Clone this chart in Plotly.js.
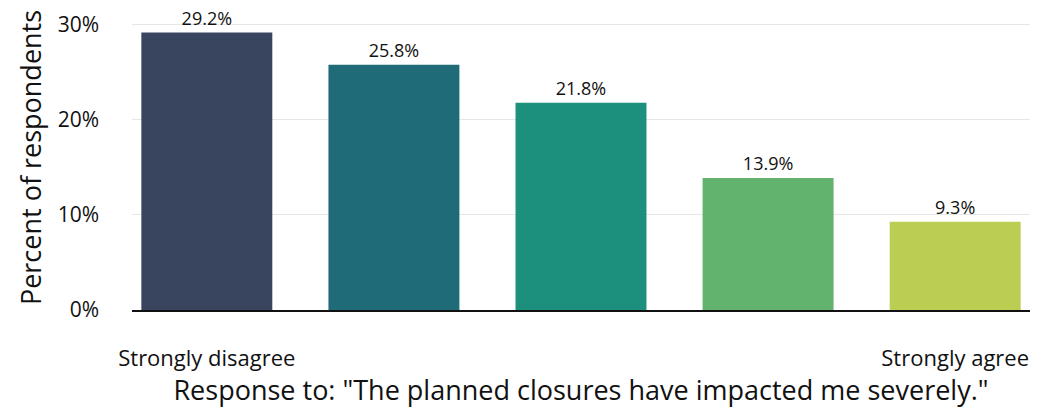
<!DOCTYPE html>
<html>
<head>
<meta charset="utf-8">
<script src="https://cdn.plot.ly/plotly-3.0.1.min.js"></script>
<style>html,body{margin:0;padding:0;background:#fff;}#chart{width:1041px;height:408px;}</style>
</head>
<body>
<div id="chart"></div>
<script>
const categories = [1, 2, 3, 4, 5];
const values = [29.2, 25.8, 21.8, 13.9, 9.3];
const barColors = ["#39455e", "#206b78", "#1c907c", "#62b36e", "#bccd53"];
const tickLabels = ["Strongly disagree", "", "", "", "Strongly agree"];
const xTitle = 'Response to: "The planned closures have impacted me severely."';
const yTitle = "Percent of respondents";

const FONT = "'Open Sans', sans-serif";

const trace = {
  type: "bar",
  x: categories,
  y: values,
  width: 0.7,
  marker: {color: barColors},
  text: values.map(v => v.toFixed(1) + "%"),
  textposition: "outside",
  cliponaxis: false,
  textfont: {family: FONT, size: 18, color: "#111"},
  hoverinfo: "none"
};

const layout = {
  width: 1041,
  height: 408,
  margin: {l: 132, r: 11, t: 5, b: 98},
  paper_bgcolor: "#fff",
  plot_bgcolor: "#fff",
  showlegend: false,
  font: {family: FONT, color: "#111"},
  xaxis: {
    range: [0.6, 5.4],
    tickvals: categories,
    ticktext: tickLabels,
    showgrid: false,
    zeroline: false,
    showline: true,
    linecolor: "#111",
    linewidth: 1.5,
    ticks: "",
    ticklabelstandoff: 28,
    tickfont: {family: FONT, size: 22, color: "#111"},
    title: {text: xTitle, font: {family: FONT, size: 27, color: "#111"}, standoff: 1}
  },
  yaxis: {
    range: [0, 32.1],
    tickvals: [0, 10, 20, 30],
    ticktext: ["0%", "10%", "20%", "30%"],
    showgrid: true,
    gridcolor: "#e6e6e6",
    gridwidth: 1,
    zeroline: false,
    showline: false,
    ticks: "",
    ticklabelstandoff: 32,
    tickfont: {family: FONT, size: 21, color: "#111"},
    title: {text: yTitle, font: {family: FONT, size: 27, color: "#111"}, standoff: 8}
  }
};

Plotly.newPlot("chart", [trace], layout, {displayModeBar: false, staticPlot: true});
</script>
</body>
</html>
